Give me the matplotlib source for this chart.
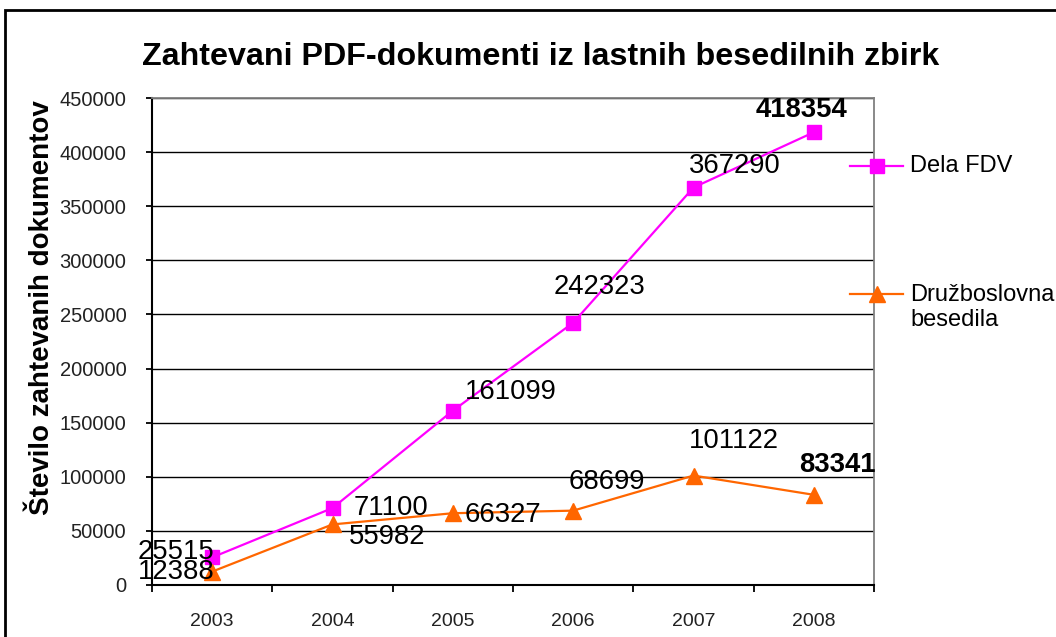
import matplotlib
matplotlib.use("Agg")
import matplotlib.pyplot as plt
from matplotlib.patches import Rectangle
from matplotlib.lines import Line2D

plt.rcParams["font.family"] = ["Liberation Sans", "DejaVu Sans"]

# ---- podatki ----
years = ["2003", "2004", "2005", "2006", "2007", "2008"]
dela_fdv = [25515, 71100, 161099, 242323, 367290, 418354]
druzboslovna = [12388, 55982, 66327, 68699, 101122, 83341]

# odmiki oznak (piksli) in poravnava
fdv_off = [(2, 5, "right"), (21, 0, "left"), (12, 19, "left"),
           (-20, 36, "left"), (-5, 22, "left"), (-58, 22, "left")]
dru_off = [(2, 0, "right"), (16, -13, "left"), (12, -2, "left"),
           (-5, 29, "left"), (-5, 35, "left"), (-15, 30, "left")]

MAGENTA = "#FF00FF"
ORANGE = "#FF6600"

fig = plt.figure(figsize=(10.56, 6.37), dpi=100)
ax = fig.add_axes([152 / 1056, 52 / 637, 722 / 1056, 487 / 637])

x = list(range(len(years)))
ax.plot(x, dela_fdv, color=MAGENTA, lw=1.6, marker="s", ms=9.5,
        mec=MAGENTA, mfc=MAGENTA, zorder=4, clip_on=False)
ax.plot(x, druzboslovna, color=ORANGE, lw=1.6, marker="^", ms=11,
        mec=ORANGE, mfc=ORANGE, zorder=4, clip_on=False)

def labels(vals, offs):
    for i, (v, (dx, dy, ha)) in enumerate(zip(vals, offs)):
        bold = i == len(vals) - 1
        ax.annotate(str(v), (x[i], v), xytext=(dx, dy),
                    textcoords="offset pixels", ha=ha, va="center",
                    fontsize=19.8, color="black",
                    fontweight="bold" if bold else "normal", zorder=5,
                    annotation_clip=False)

labels(dela_fdv, fdv_off)
labels(druzboslovna, dru_off)

ax.set_xlim(-0.5, 5.5)
ax.set_ylim(0, 450000)
ax.set_xticks([i - 0.5 for i in range(len(years) + 1)])
ax.set_xticklabels([])
ax.set_xticks(x, minor=True)
ax.set_xticklabels(years, minor=True)
ax.tick_params(axis="x", which="major", direction="out", length=5,
               width=1.3, color="black")
ax.tick_params(axis="x", which="minor", length=0, pad=20,
               labelsize=14, labelcolor="#222222")
ax.set_yticks(range(0, 450001, 50000))
ax.tick_params(axis="y", direction="out", length=4.5, width=1.3,
               pad=14, labelsize=14.5, labelcolor="#222222")

ax.set_axisbelow(True)
ax.yaxis.grid(True, color="black", lw=1.0)
for s in ("left", "bottom"):
    ax.spines[s].set_color("black")
    ax.spines[s].set_linewidth(1.5)
for s in ("top", "right"):
    ax.spines[s].set_color("#808080")
    ax.spines[s].set_linewidth(1.3)

# naslov in oznaka osi
fig.text(541 / 1056, 1 - 57 / 637,
         "Zahtevani PDF-dokumenti iz lastnih besedilnih zbirk",
         ha="center", va="center", fontsize=23.2, fontweight="bold")
fig.text(42 / 1056, 1 - 308 / 637, "Število zahtevanih dokumentov",
         rotation=90, ha="center", va="center", fontsize=20,
         fontweight="bold")

# legenda
for yy, col, mk, ms in ((166, MAGENTA, "s", 9.5), (294, ORANGE, "^", 11)):
    yf = 1 - yy / 637
    fig.add_artist(Line2D([850 / 1056, 903 / 1056], [yf, yf], color=col,
                          lw=1.6))
    fig.add_artist(Line2D([877 / 1056], [yf], color=col, marker=mk, ms=ms,
                          lw=0))
fig.text(910 / 1056, 1 - 166 / 637, "Dela FDV", ha="left", va="center",
         fontsize=17)
fig.text(910 / 1056, 1 - 284 / 637, "Družboslovna\nbesedila", ha="left",
         va="top", fontsize=17, linespacing=1.2)

# okvir slike
fig.add_artist(Rectangle((5 / 1056, -0.1), 1.2, 1 - 10 / 637 + 0.1,
                         transform=fig.transFigure, fill=False,
                         ec="black", lw=2))

fig.savefig("out.png", dpi=100)
